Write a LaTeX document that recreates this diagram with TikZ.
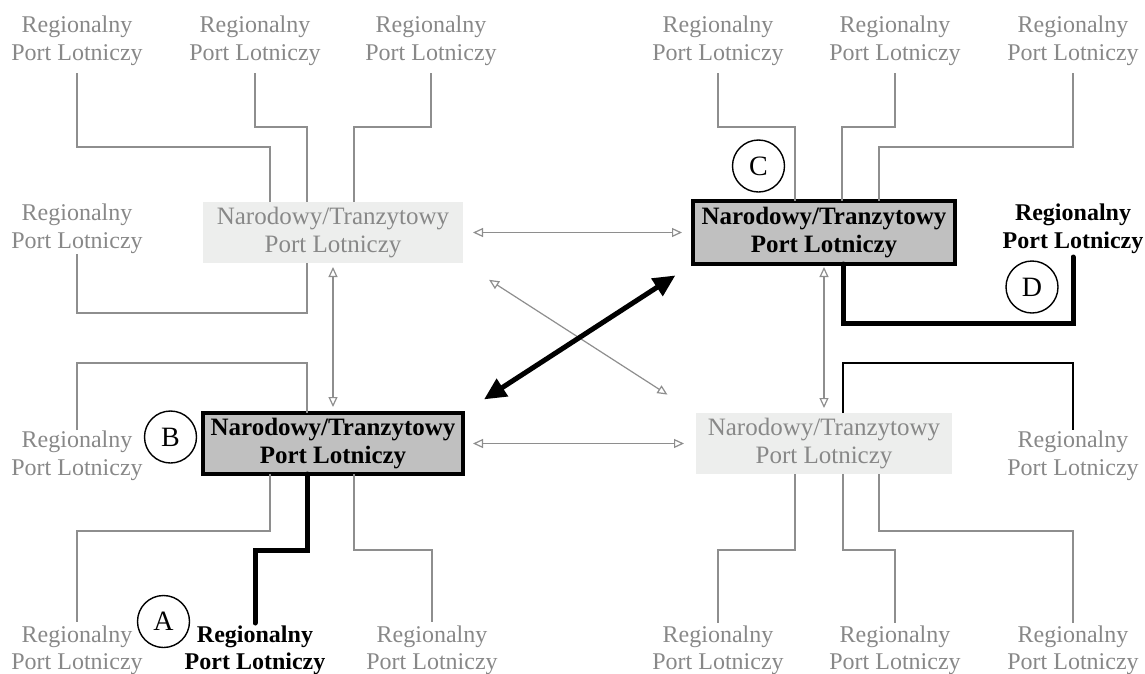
\documentclass[tikz,border=0pt]{standalone}
\usepackage{fontspec}
\setmainfont{Liberation Serif}
\usetikzlibrary{arrows.meta}
\definecolor{gtext}{HTML}{888888}
\definecolor{gline}{HTML}{8E8E8E}
\definecolor{lbox}{HTML}{EDEEED}
\definecolor{dbox}{HTML}{C0C0C0}
\begin{document}
\begin{tikzpicture}[x=1pt,y=-1pt,
  every node/.style={outer sep=0pt},
  reg/.style={align=center, text=gtext, font=\fontsize{24}{27.5}\selectfont, inner sep=0pt},
  regb/.style={align=center, text=black, font=\fontsize{24}{27.5}\selectfont\bfseries, inner sep=0pt},
  lightbox/.style={fill=lbox, text=gtext, minimum height=61pt, inner sep=0pt, align=center, font=\fontsize{25}{28.5}\selectfont},
  darkbox/.style={fill=dbox, draw=black, line width=4pt, text=black, minimum height=61pt, inner sep=0pt, align=center, font=\fontsize{25}{28.5}\selectfont\bfseries},
  gl/.style={draw=gline, line width=1.3pt},
  bl/.style={draw=black, line width=5pt, line cap=round},
  letter/.style={circle, draw=black, line width=1.4pt, minimum size=52pt, inner sep=0pt, font=\fontsize{28}{28}\selectfont},
  oarr/.style={draw=gline, line width=1.2pt, {Triangle[length=10pt,width=9pt,fill=white]}-{Triangle[length=10pt,width=9pt,fill=white]}},
  barr/.style={draw=black, line width=5pt, {Triangle[length=22pt,width=20pt]}-{Triangle[length=22pt,width=20pt]}}
]
\useasboundingbox (0,0) rectangle (1145,673);

% boxes
\node[lightbox, minimum width=260pt] (tl) at (333,232.5) {Narodowy/Tranzytowy\\Port Lotniczy};
\node[darkbox, minimum width=260pt] (b) at (333,443.5) {Narodowy/Tranzytowy\\Port Lotniczy};
\node[darkbox, minimum width=262pt, minimum height=63pt] (c) at (824,232.5) {Narodowy/Tranzytowy\\Port Lotniczy};
\node[lightbox, minimum width=256pt] (br) at (824,443.5) {Narodowy/Tranzytowy\\Port Lotniczy};

% regional labels
\node[reg] (t1) at (77,41) {Regionalny\\Port Lotniczy};
\node[reg] (t2) at (255,41) {Regionalny\\Port Lotniczy};
\node[reg] (t3) at (431,41) {Regionalny\\Port Lotniczy};
\node[reg] (t4) at (718,41) {Regionalny\\Port Lotniczy};
\node[reg] (t5) at (895,41) {Regionalny\\Port Lotniczy};
\node[reg] (t6) at (1073,41) {Regionalny\\Port Lotniczy};
\node[reg] (m1) at (77,229) {Regionalny\\Port Lotniczy};
\node[regb] (d) at (1073,229) {Regionalny\\Port Lotniczy};
\node[reg] (bl) at (77,456) {Regionalny\\Port Lotniczy};
\node[reg] (brl) at (1073,456) {Regionalny\\Port Lotniczy};
\node[reg] (b1) at (77,650) {Regionalny\\Port Lotniczy};
\node[regb] (bA) at (255,650) {Regionalny\\Port Lotniczy};
\node[reg] (b3) at (432,650) {Regionalny\\Port Lotniczy};
\node[reg] (b4) at (718,650) {Regionalny\\Port Lotniczy};
\node[reg] (b5) at (895,650) {Regionalny\\Port Lotniczy};
\node[reg] (b6) at (1073,650) {Regionalny\\Port Lotniczy};

% letters
\node[letter] (lA) at (163.5,621.5) {A};
\node[letter] (lB) at (170.5,437) {B};
\node[letter] (lC) at (758.5,166) {C};
\node[letter] (lD) at (1032,287) {D};

% connectors top-left hub
\draw[gl] (t1.south |- 0,73) |- (270,147) -- (tl.north -| 270,0);
\draw[gl] (t2.south |- 0,73) |- (307,127) -- (tl.north -| 307,0);
\draw[gl] (t3.south |- 0,73) |- (354,127) -- (tl.north -| 354,0);
\draw[gl] (m1.south |- 0,254) |- (307,313) -- (tl.south -| 307,0);

% connectors B hub
\draw[gl] (bl.north |- 0,430) |- (307,363) -- (b.north -| 307,0);
\draw[gl] (b.south -| 270,0) |- (77,531) -- (b1.north |- 0,622);
\draw[bl] (b.south -| 307,0) |- (255,550) -- (bA.north |- 0,623);
\draw[gl] (b.south -| 354,0) |- (432,550) -- (b3.north |- 0,622);

% connectors C hub
\draw[gl] (t4.south |- 0,73) |- (795,127) -- (c.north -| 795,0);
\draw[gl] (t5.south |- 0,73) |- (842,127) -- (c.north -| 842,0);
\draw[gl] (t6.south |- 0,73) |- (879,147) -- (c.north -| 879,0);
\draw[bl] (c.south -| 843,0) |- (1073,323) -- (d.south |- 0,257);

% connectors bottom-right hub
\draw[black, line width=1.3pt] (br.north -| 843,0) |- (1073,363) -- (brl.north |- 0,430);
\draw[gl] (br.south -| 795,0) |- (718,550) -- (b4.north |- 0,623);
\draw[gl] (br.south -| 843,0) |- (895,550) -- (b5.north |- 0,623);
\draw[gl] (br.south -| 879,0) |- (1073,531) -- (b6.north |- 0,623);

% hub-to-hub arrows
\draw[oarr, shorten <=10pt, shorten >=11pt] (tl.east) -- (c.west);
\draw[oarr, shorten <=10pt, shorten >=12pt] (b.east) -- (br.west);
\draw[oarr, shorten <=4pt, shorten >=6pt] (tl.south) -- (b.north);
\draw[oarr, shorten <=3pt, shorten >=5pt] (c.south) -- (br.north);
\draw[oarr, shorten <=31pt, shorten >=34pt] (tl.south east) -- (br.north west);
\draw[barr, shorten <=25pt, shorten >=21pt] (b.north east) -- (c.south west);
\end{tikzpicture}
\end{document}
